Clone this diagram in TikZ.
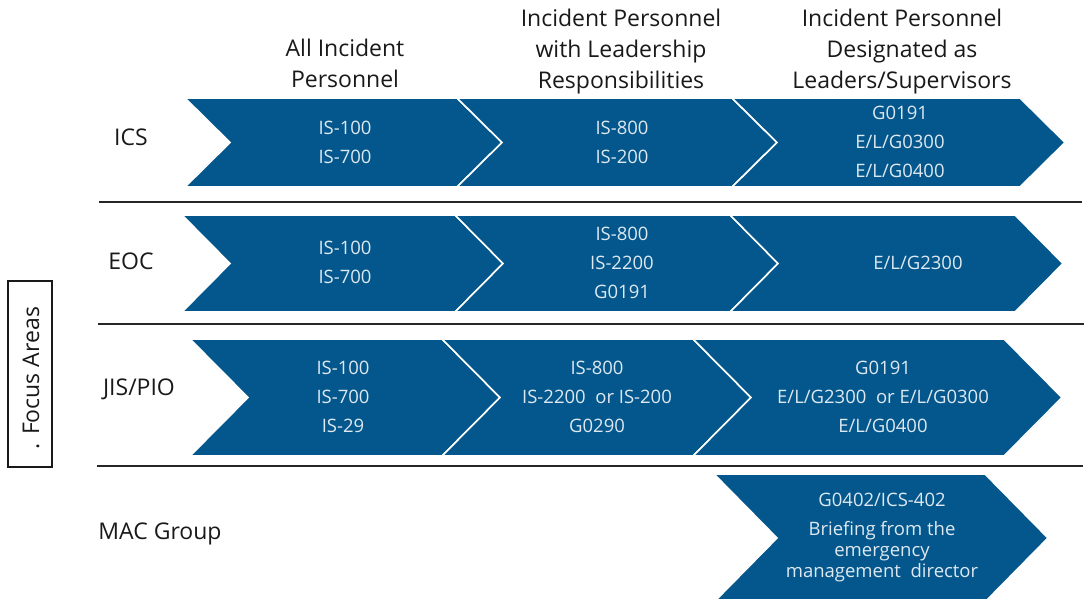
\documentclass[tikz,border=0pt]{standalone}
\usepackage{fontspec}
\setmainfont{Open Sans}
\definecolor{chevblue}{RGB}{3,87,140}
\definecolor{chevtxt}{RGB}{222,232,240}
\tikzset{
  chev/.style={fill=chevblue, draw=white, line width=1.6pt, line join=miter},
  chtxt/.style={text=chevtxt, font=\fontsize{18.5}{29}\selectfont, align=center, inner sep=0pt},
  hdr/.style={text=black!90, font=\fontsize{23}{31}\selectfont, align=center, inner sep=0pt},
  rowlab/.style={text=black!90, font=\fontsize{23}{28}\selectfont, inner sep=0pt},
  sepline/.style={draw=black!85, line width=2.4pt},
  focusbox/.style={draw=black!90, line width=1.4pt, minimum width=44pt, minimum height=186pt, inner sep=0pt},
}
% left x, right x, top y, bottom y, depth
\newcommand\chevshape[5]{%
  \filldraw[chev] (#1,#3) -- (#2,#3) -- ({#2+#5},{(#3+#4)/2}) -- (#2,#4) -- (#1,#4) -- ({#1+#5},{(#3+#4)/2}) -- cycle;}
\begin{document}
\begin{tikzpicture}[x=1pt,y=-1pt]
\useasboundingbox (0,0) rectangle (1086,599);
\clip (0,0) rectangle (1086,599);

% headers
\node[hdr] (h1) at (345,63) {All Incident\\Personnel};
\node[hdr] (h2) at (621,52) {Incident Personnel\\with Leadership\\Responsibilities};
\node[hdr] (h3) at (902,52) {Incident Personnel\\Designated as\\Leaders/Supervisors};

% row labels
\node[rowlab] (lics) at (131,137) {ICS};
\node[rowlab] (leoc) at (131,261) {EOC};
\node[rowlab] (ljis) at (139,389) {JIS/PIO};
\node[rowlab] (lmac) at (160,534) {MAC Group};

% focus areas box
\node[focusbox] (focus) at (30,374) {};
\node[rowlab, rotate=90] (focustxt) at (31,378) {. Focus Areas};

% separator lines
\draw[sepline] (99,202) -- (1082,202);
\draw[sepline] (98,324) -- (1084,324);
\draw[sepline] (97,466) -- (1083,466);

% row 1: ICS
\chevshape{185}{457}{98}{187}{45}
\chevshape{457}{732}{98}{187}{45}
\chevshape{732}{1020}{98}{187}{45}
\node[chtxt] (t11) at (345,142.5) {IS-100\\IS-700};
\node[chtxt] (t12) at (622,142.5) {IS-800\\IS-200};
\node[chtxt] (t13) at (900,142) {G0191\\E/L/G0300\\E/L/G0400};

% row 2: EOC
\chevshape{182}{455}{215}{312}{48}
\chevshape{455}{730}{215}{312}{48}
\chevshape{730}{1015}{215}{312}{48}
\node[chtxt] (t21) at (345,262.5) {IS-100\\IS-700};
\node[chtxt] (t22) at (622,263) {IS-800\\IS-2200\\G0191};
\node[chtxt] (t23) at (918,263) {E/L/G2300};

% row 3: JIS/PIO
\chevshape{190}{442}{339}{456}{58}
\chevshape{442}{693}{339}{456}{58}
\chevshape{693}{1004}{339}{456}{58}
\node[chtxt] (t31) at (343,397) {IS-100\\IS-700\\IS-29};
\node[chtxt] (t32) at (597,397) {IS-800\\IS-2200~ or IS-200\\G0290};
\node[chtxt] (t33) at (883,397) {G0191\\E/L/G2300~ or E/L/G0300\\E/L/G0400};

% row 4: MAC Group
\chevshape{714}{985}{474}{602}{63}
\node[chtxt, font=\fontsize{18.5}{21}\selectfont] (t41) at (882,538) {G0402/ICS-402\\[8pt]Briefing from the\\emergency\\management~ director};
\end{tikzpicture}
\end{document}
